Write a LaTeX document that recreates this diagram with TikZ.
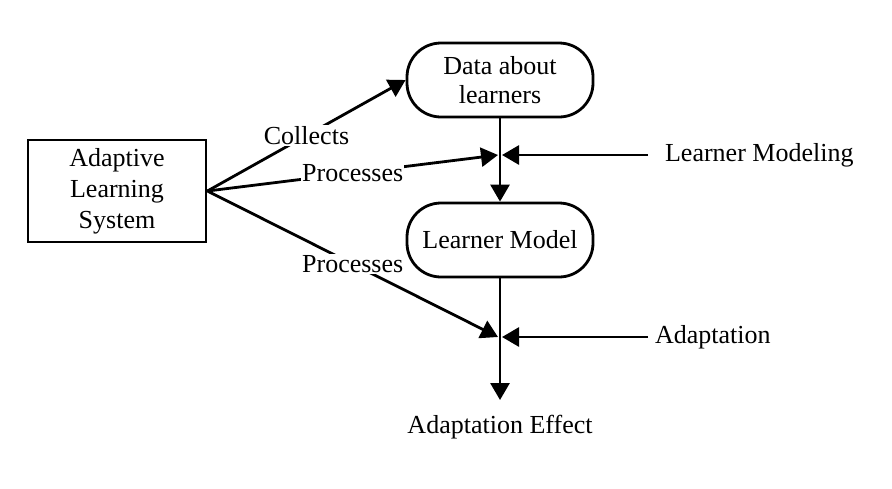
\documentclass[tikz,border=0pt]{standalone}
\usepackage{fontspec}
\setmainfont{Liberation Serif}
\usepackage{tikz}
\usetikzlibrary{arrows.meta, positioning, calc}
\tikzset{
  sysbox/.style={rectangle, draw, line width=1.4pt, minimum width=89pt,
                 minimum height=51pt, align=center, inner sep=1pt,
                 font=\fontsize{13}{15.5}\selectfont},
  roundbox/.style={rectangle, rounded corners=17pt, draw, line width=1.4pt,
                   minimum width=93pt, minimum height=37pt, align=center,
                   inner sep=1pt},
  arrow/.style={-{Triangle[length=8.5pt, width=9.5pt]}, line width=1.4pt},
  lbl/.style={fill=white, inner sep=0.5pt},
}

\begin{document}
\begin{tikzpicture}[x=0.5pt, y=-0.5pt,
  every node/.style={font=\fontsize{13}{14.5}\selectfont},
]
  \useasboundingbox (0,0) rectangle (892,488);

  \node[sysbox] (asys) at (117,191) {Adaptive\\Learning\\System};
  \node[roundbox] (data) at (500,80) {Data about\\learners};
  \node[roundbox] (lmodel) at (500,240) {Learner Model};
  \node[anchor=west] (lmod) at (658,155) {Learner Modeling};
  \node[anchor=west] (adapt) at (648,337) {Adaptation};
  \node (effect) at (500,427) {Adaptation Effect};

  \coordinate (j1) at (500,155);
  \coordinate (j2) at (500,337);

  % fan from the system
  \draw[arrow] (asys.east) -- (data.west) node[lbl, midway] {Collects};
  \draw[arrow] (asys.east) -- ([xshift=-1pt]j1) node[lbl, midway] {Processes};
  \draw[arrow] (asys.east) -- ([xshift=-1pt]j2) node[lbl, midway] {Processes};

  % main flow
  \draw[arrow] (data) -- (lmodel);
  \draw[arrow, shorten >=4pt] (lmodel) -- (effect);
  \draw[arrow] ([xshift=-5pt]lmod.west) -- ([xshift=1pt]j1);
  \draw[arrow] (adapt.west) -- ([xshift=1pt]j2);

\end{tikzpicture}
\end{document}
